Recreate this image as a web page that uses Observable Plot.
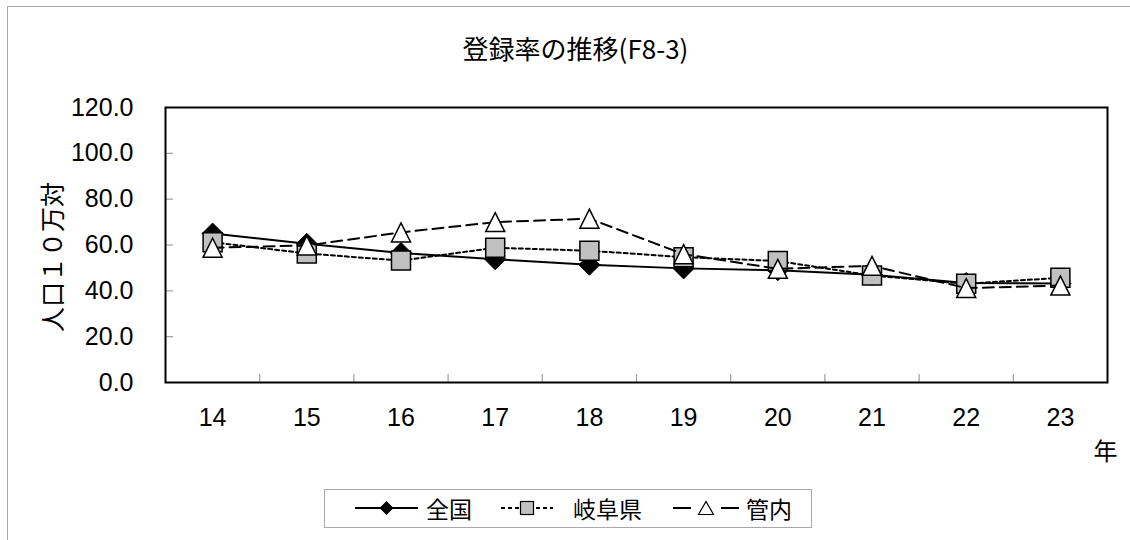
<!DOCTYPE html>
<html>
<head>
<meta charset="utf-8">
<script src="https://cdn.jsdelivr.net/npm/d3@7"></script>
<script src="https://cdn.jsdelivr.net/npm/@observablehq/plot@0.6"></script>
<style>
  html, body { margin: 0; padding: 0; background: #fff; }
  #wrap { position: relative; width: 1130px; height: 540px; overflow: hidden; font-family: "Liberation Sans", Arial, "Noto Sans CJK JP", sans-serif; }
  #border { position: absolute; left: 7px; top: 6px; width: 1200px; height: 600px; border-left: 1.5px solid #a8a8a8; border-top: 1.5px solid #a8a8a8; }
  #legend { position: absolute; left: 324px; top: 489px; width: 486px; height: 37px; border: 1.5px solid #a8a8a8; font-size: 23px; font-family: "Noto Sans CJK JP", sans-serif; background: #fff; }
  .sw { position: absolute; top: 8px; display: block; }
  .lab { position: absolute; top: 0; height: 37px; line-height: 37px; }
</style>
</head>
<body>
<div id="wrap">
  <div id="border"></div>
  <div id="chart"></div>
  <div id="legend"></div>
</div>
<script>
// ---- data ----
const title = "登録率の推移(F8-3)";
const yLabel = "人口１０万対";
const xUnit = "年";
const years = [14, 15, 16, 17, 18, 19, 20, 21, 22, 23];
const seriesNames = ["全国", "岐阜県", "管内"];
const zenkoku = [65.0, 60.5, 56.5, 53.8, 51.4, 49.8, 49.0, 47.0, 43.4, 43.2];
const gifu    = [61.2, 56.3, 53.2, 58.8, 57.5, 54.7, 53.0, 46.7, 43.1, 45.7];
const kannai  = [58.8, 59.8, 65.5, 70.0, 71.5, 56.0, 49.6, 50.9, 41.2, 42.3];
const yTicks = [0, 20, 40, 60, 80, 100, 120];

// ---- build table ----
const seriesValues = [zenkoku, gifu, kannai];
const table = seriesNames.map((name, s) => years.map((yr, i) => ({ year: yr, value: seriesValues[s][i], series: name })));

// ---- custom marker symbols (bounding-box centred, like the original) ----
const diamondSym = { draw(ctx, size) { const h = Math.sqrt(size) / 2; ctx.moveTo(0, -h); ctx.lineTo(h, 0); ctx.lineTo(0, h); ctx.lineTo(-h, 0); ctx.closePath(); } };
const squareSym = { draw(ctx, size) { const h = Math.sqrt(size) / 2; ctx.moveTo(-h, -h); ctx.lineTo(h, -h); ctx.lineTo(h, h); ctx.lineTo(-h, h); ctx.closePath(); } };
const triangleSym = { draw(ctx, size) { const h = Math.sqrt(size) / 2; ctx.moveTo(0, -h); ctx.lineTo(h, h); ctx.lineTo(-h, h); ctx.closePath(); } };
const rFor = side => side / Math.sqrt(Math.PI);

const styles = [
  { dash: null, symbol: diamondSym, side: 21, fill: "#000", sw: 1 },
  { dash: "4,3", symbol: squareSym, side: 19, fill: "#c0c0c0", sw: 1.5 },
  { dash: "11,6", symbol: triangleSym, side: 19, fill: "#fff", sw: 1.5 }
];

const W = 1130, H = 540, mL = 165, mR = 23, mT = 107, mB = 158;
const xDomain = [years[0] - 0.5, years[years.length - 1] + 0.5];
const yDomain = [yTicks[0], yTicks[yTicks.length - 1]];
const pxPerX = (W - mL - mR) / (xDomain[1] - xDomain[0]);
const pxPerY = (H - mT - mB) / (yDomain[1] - yDomain[0]);
const tickPx = 8;
const boundaries = years.slice(1).map(y => y - 0.5);
const innerY = yTicks.slice(1, -1);

const marks = [
  Plot.ruleY(innerY, { x1: xDomain[0], x2: xDomain[0] + tickPx / pxPerX, stroke: "#a0a0a0", strokeWidth: 1.2 }),
  Plot.ruleX(boundaries, { y1: yDomain[0], y2: yDomain[0] + tickPx / pxPerY, stroke: "#a0a0a0", strokeWidth: 1.2 }),
  Plot.frame({ stroke: "#000", strokeWidth: 2 })
];
table.forEach((rows, s) => {
  const st = styles[s];
  marks.push(Plot.line(rows, { x: "year", y: "value", stroke: "#000", strokeWidth: 2, strokeDasharray: st.dash || undefined }));
  marks.push(Plot.dot(rows, { x: "year", y: "value", symbol: st.symbol, r: rFor(st.side), fill: st.fill, stroke: "#000", strokeWidth: st.sw }));
});
marks.push(
  Plot.axisX({ ticks: years, tickSize: 0, tickPadding: 26, tickFormat: d => String(d), fontSize: 25, label: null }),
  Plot.axisY({ ticks: yTicks, tickSize: 0, tickPadding: 32, tickFormat: d3.format(".1f"), fontSize: 25, label: null }),
  Plot.text([title], { frameAnchor: "top", dx: -61, dy: -57, fontSize: 26, fontFamily: "Noto Sans CJK JP, sans-serif", lineAnchor: "middle" }),
  Plot.text([yLabel], { frameAnchor: "left", dx: -112, dy: 12, rotate: -90, fontSize: 25, fontFamily: "Noto Sans CJK JP, sans-serif", textAnchor: "middle", lineAnchor: "middle" }),
  Plot.text([xUnit], { frameAnchor: "bottom-right", dx: -2, dy: 70, fontSize: 24, fontFamily: "Noto Sans CJK JP, sans-serif", textAnchor: "middle", lineAnchor: "middle" })
);

const chart = Plot.plot({
  width: W, height: H,
  marginLeft: mL, marginRight: mR, marginTop: mT, marginBottom: mB,
  x: { type: "linear", domain: xDomain, label: null },
  y: { domain: yDomain, label: null },
  style: { fontFamily: "'Liberation Sans', Arial, 'Noto Sans CJK JP', sans-serif", fontSize: "25px", color: "#000", background: "transparent" },
  marks
});
chart.style.position = "absolute";
chart.style.left = "0px";
chart.style.top = "0px";
document.getElementById("chart").appendChild(chart);

// ---- legend ----
const legendSw = [
  { left: 30, w: 63, textLeft: 101, dash: "", shape: "diamond", size: 14, fill: "#000" },
  { left: 176, w: 52, textLeft: 248, dash: "4,3", shape: "square", size: 15, fill: "#c0c0c0" },
  { left: 348, w: 66, textLeft: 421, dash: "18,30", shape: "triangle", size: 15, fill: "#fff" }
];
const legend = document.getElementById("legend");
seriesNames.forEach((name, i) => {
  const sw = legendSw[i];
  const c = sw.w / 2, m = 10, h = sw.size / 2;
  let shape = "";
  if (sw.shape === "diamond") shape = `<path d="M${c},${m - h}L${c + h},${m}L${c},${m + h}L${c - h},${m}Z" fill="#000"/>`;
  if (sw.shape === "square") shape = `<rect x="${c - h + 1}" y="${m - h + 1}" width="${sw.size - 2}" height="${sw.size - 2}" fill="${sw.fill}" stroke="#000" stroke-width="1.2"/>`;
  if (sw.shape === "triangle") shape = `<path d="M${c},${m - h + 1}L${c + h},${m + h - 1}L${c - h},${m + h - 1}Z" fill="#fff" stroke="#000" stroke-width="1.2"/>`;
  const svg = document.createElement("div");
  svg.className = "sw";
  svg.style.left = sw.left + "px";
  svg.innerHTML = `<svg width="${sw.w}" height="20" style="display:block"><line x1="0" y1="${m}" x2="${sw.w}" y2="${m}" stroke="#000" stroke-width="2" ${sw.dash ? `stroke-dasharray="${sw.dash}"` : ""}/>${shape}</svg>`;
  const lab = document.createElement("div");
  lab.className = "lab";
  lab.style.left = sw.textLeft + "px";
  lab.textContent = name;
  legend.appendChild(svg);
  legend.appendChild(lab);
});
</script>
</body>
</html>
